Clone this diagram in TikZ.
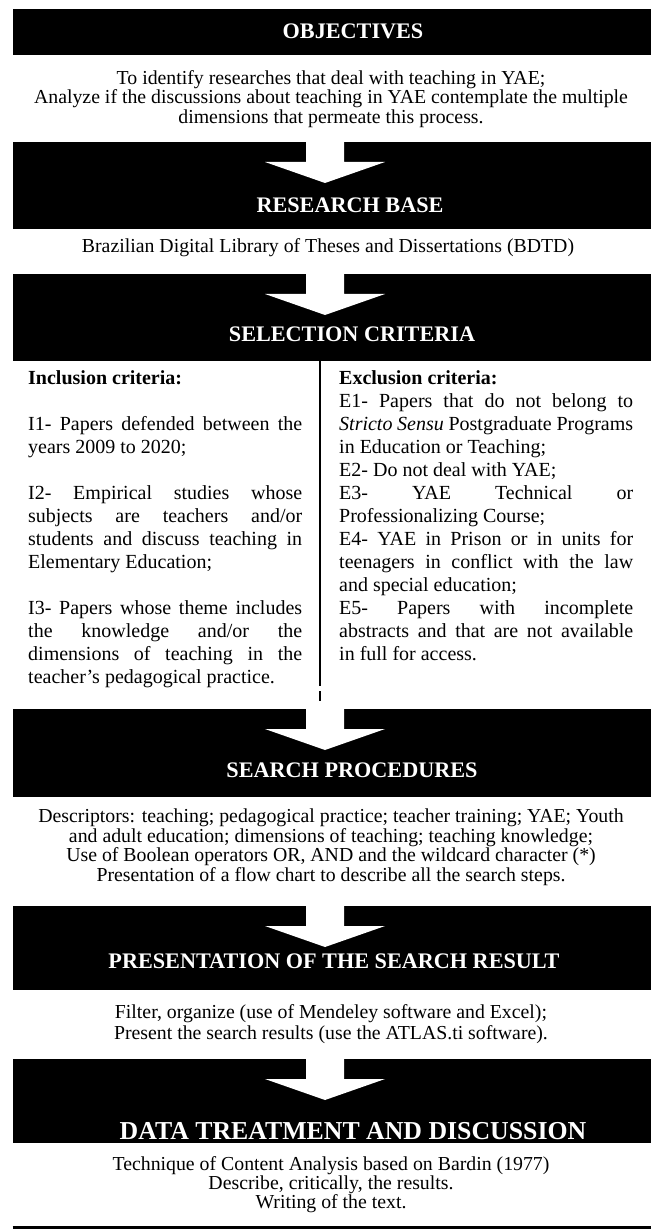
\documentclass[tikz,border=0pt]{standalone}
\usepackage{fontspec}
\setmainfont{Liberation Serif}
\tolerance=10000
\hbadness=10000

% white block arrow cut into the top of a stage box
\newcommand{\stagearrow}[1]{%
  \fill[white] ([xshift=-25.5pt,yshift=1pt]#1.north) -- ([xshift=-25.5pt,yshift=-20pt]#1.north)
    -- ([xshift=-66.5pt,yshift=-20pt]#1.north) -- ([xshift=-6.5pt,yshift=-41pt]#1.north)
    -- ([xshift=53.5pt,yshift=-20pt]#1.north) -- ([xshift=12.5pt,yshift=-20pt]#1.north)
    -- ([xshift=12.5pt,yshift=1pt]#1.north) -- cycle;}

\begin{document}
\begin{tikzpicture}[x=1pt,y=-1pt]

\tikzstyle{stagebox} = [fill=black,minimum width=638pt,inner sep=0pt,anchor=north];
\tikzstyle{stagetitle} = [text=white,font=\fontsize{22.2}{25}\selectfont\bfseries];
\tikzstyle{bodytext} = [align=center,font=\fontsize{19.8}{19.5}\selectfont];
\tikzstyle{criteria} = [anchor=north west,inner sep=0pt,align=justify,font=\fontsize{20}{23}\selectfont];

\useasboundingbox (0,0) rectangle (657,1230);

\node[stagebox,minimum height=46pt] (v1) at (331.5,9) {};
\node[stagebox,minimum height=87pt] (v2) at (331.5,142) {};
\node[stagebox,minimum height=87pt] (v3) at (331.5,274) {};
\node[stagebox,minimum height=88pt] (v4) at (331.5,709) {};
\node[stagebox,minimum height=84pt] (v5) at (331.5,906) {};
\node[stagebox,minimum height=84pt] (v6) at (331.5,1059) {};

\foreach \b in {v2,v3,v4,v5,v6} {\stagearrow{\b}}

\node[stagetitle] (t1) at (353,31) {OBJECTIVES};
\node[stagetitle] (t2) at (350,205) {RESEARCH BASE};
\node[stagetitle] (t3) at (352,334) {SELECTION CRITERIA};
\node[stagetitle] (t4) at (352,770) {SEARCH PROCEDURES};
\node[stagetitle] (t5) at (334,961) {PRESENTATION OF THE SEARCH RESULT};
\node[stagetitle,font=\fontsize{25.8}{28}\selectfont\bfseries] (t6) at (353,1131) {DATA TREATMENT AND DISCUSSION};

\node[bodytext] (objtext) at (331,99) {To identify researches that deal with teaching in YAE;\\
  Analyze if the discussions about teaching in YAE contemplate the multiple\\
  dimensions that permeate this process.};
\node[bodytext] (basetext) at (328,248) {Brazilian Digital Library of Theses and Dissertations (BDTD)};

\node[criteria,text width=274pt] (incl) at (28,370) {\textbf{Inclusion criteria:}\\[23pt]
  I1- Papers defended between the\linebreak years 2009 to 2020;\\[23pt]
  I2- Empirical studies whose\linebreak subjects are teachers and/or\linebreak
  students and discuss teaching in\linebreak Elementary Education;\\[23pt]
  I3- Papers whose theme includes\linebreak the knowledge and/or the\linebreak
  dimensions of teaching in the\linebreak teacher's pedagogical practice.};
\node[criteria,text width=294pt] (excl) at (339,370) {\textbf{Exclusion criteria:}\\
  E1- Papers that do not belong to\linebreak \textit{Stricto Sensu} Postgraduate Programs\linebreak
  in Education or Teaching;\\
  E2- Do not deal with YAE;\\
  E3- YAE Technical or\linebreak Professionalizing Course;\\
  E4- YAE in Prison or in units for\linebreak teenagers in conflict with the law\linebreak
  and special education;\\
  E5- Papers with incomplete\linebreak abstracts and that are not available\linebreak
  in full for access.};

\coordinate (d1) at (320,361);
\coordinate (d2) at (320,686);
\coordinate (d3) at (320,691);
\coordinate (d4) at (320,701);
\draw[line width=2pt] (d1) -- (d2);
\draw[line width=2pt] (d3) -- (d4);

\node[bodytext,font=\fontsize{19.8}{19.5}\selectfont] (searchtext) at (331,847) {Descriptors: teaching; pedagogical practice; teacher training; YAE; Youth\\
  and adult education; dimensions of teaching; teaching knowledge;\\
  Use of Boolean operators OR, AND and the wildcard character (*)\\
  Presentation of a flow chart to describe all the search steps.};
\node[bodytext,font=\fontsize{19.8}{20.5}\selectfont] (resulttext) at (331,1024) {Filter, organize (use of Mendeley software and Excel);\\
  Present the search results (use the ATLAS.ti software).};
\node[bodytext,font=\fontsize{19.8}{19}\selectfont] (datatext) at (331,1185) {Technique of Content Analysis based on Bardin (1977)\\
  Describe, critically, the results.\\
  Writing of the text.};

\coordinate (r1) at (12.5,1227.5);
\coordinate (r2) at (650.5,1227.5);
\draw[line width=2.5pt] (r1) -- (r2);

\end{tikzpicture}
\end{document}
